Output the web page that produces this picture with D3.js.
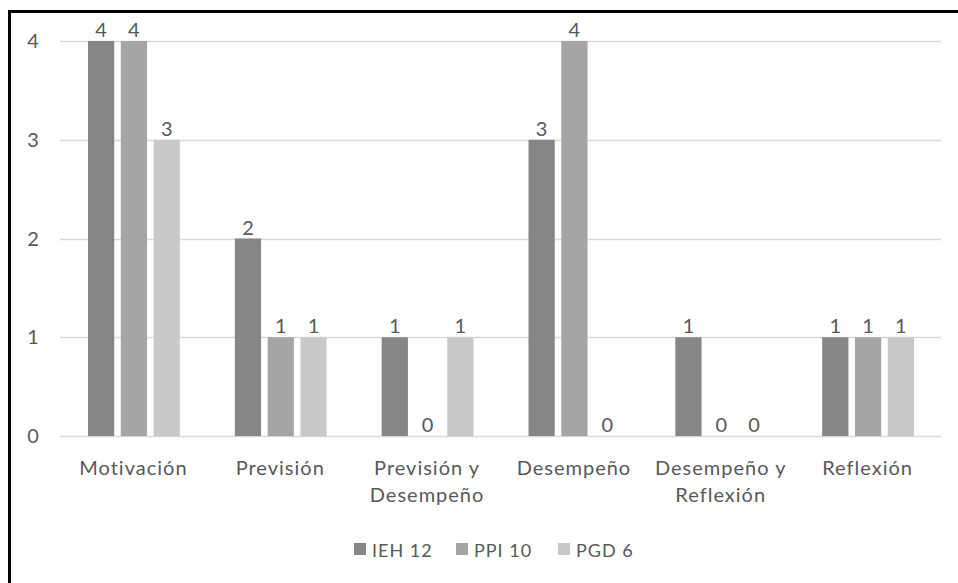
<!DOCTYPE html>
<html>
<head>
<meta charset="utf-8">
<script src="https://cdn.jsdelivr.net/npm/d3@7"></script>
<style>
  body { margin: 0; background: #fff; }
  svg { display: block; font-family: Lato, "Open Sans", sans-serif; }
</style>
</head>
<body>
<div id="wrapper"></div>
<script>
const categories = [["Motivación"], ["Previsión"], ["Previsión y", "Desempeño"], ["Desempeño"], ["Desempeño y", "Reflexión"], ["Reflexión"]]
const seriesNames = ["IEH 12", "PPI 10", "PGD 6"]
const ieh = [4, 2, 1, 3, 1, 1]
const ppi = [4, 1, 0, 4, 0, 1]
const pgd = [3, 1, 1, 0, 0, 1]
const yTicks = [0, 1, 2, 3, 4]
const colours = ["#868686", "#a5a5a5", "#c9c9c9"]

function drawBars() {
  const values = [ieh, ppi, pgd]
  const dimensions = {
    width: 958,
    height: 583,
    margin: { top: 41, right: 17, bottom: 147, left: 60 },
  }
  dimensions.boundedWidth = dimensions.width - dimensions.margin.left - dimensions.margin.right
  dimensions.boundedHeight = dimensions.height - dimensions.margin.top - dimensions.margin.bottom

  const wrapper = d3.select("#wrapper").append("svg")
      .attr("width", dimensions.width)
      .attr("height", dimensions.height)

  // frame (only top and left edges visible)
  wrapper.append("path")
      .attr("d", `M9.5,${dimensions.height} V11.5 H${dimensions.width}`)
      .attr("fill", "none")
      .attr("stroke", "#000")
      .attr("stroke-width", 3)

  const bounds = wrapper.append("g")
      .attr("transform", `translate(${dimensions.margin.left},${dimensions.margin.top})`)

  const xScale = d3.scaleBand()
      .domain(d3.range(categories.length))
      .range([0, dimensions.boundedWidth])

  const xInner = d3.scaleBand()
      .domain(d3.range(seriesNames.length))
      .range([28, xScale.bandwidth() - 27])
      .paddingInner(0.2)

  const yScale = d3.scaleLinear()
      .domain([0, 4])
      .range([dimensions.boundedHeight, 0])

  // gridlines
  bounds.append("g").selectAll("line")
    .data(yTicks)
    .join("line")
      .attr("x1", 0)
      .attr("x2", dimensions.boundedWidth)
      .attr("y1", d => Math.round(yScale(d)) + 0.5)
      .attr("y2", d => Math.round(yScale(d)) + 0.5)
      .attr("stroke", "#d9d9d9")
      .attr("stroke-width", 1.3)

  // y tick labels
  bounds.append("g").selectAll("text")
    .data(yTicks)
    .join("text")
      .attr("x", -27)
      .attr("y", d => yScale(d) + 7)
      .attr("text-anchor", "middle")
      .attr("fill", "#595959")
      .style("font-size", "20px")
      .text(d => d)

  // bars
  const groups = bounds.selectAll(".cat")
    .data(categories)
    .join("g")
      .attr("class", "cat")
      .attr("transform", (d, i) => `translate(${xScale(i)},0)`)

  groups.each(function(c, i) {
    const g = d3.select(this)
    seriesNames.forEach((s, j) => {
      const v = values[j][i]
      g.append("rect")
          .attr("x", xInner(j))
          .attr("y", yScale(v))
          .attr("width", xInner.bandwidth())
          .attr("height", yScale(0) - yScale(v))
          .attr("fill", colours[j])
      g.append("text")
          .attr("x", xInner(j) + xInner.bandwidth() / 2)
          .attr("y", yScale(v) - 4)
          .attr("text-anchor", "middle")
          .attr("fill", "#595959")
          .style("font-size", "20px")
          .text(v)
    })
    const label = g.append("text")
        .attr("x", xScale.bandwidth() / 2)
        .attr("y", dimensions.boundedHeight + 39)
        .attr("text-anchor", "middle")
        .attr("fill", "#595959")
        .style("font-size", "20px")
        .style("letter-spacing", "1px")
    c.forEach((line, k) => {
      label.append("tspan")
          .attr("x", xScale.bandwidth() / 2)
          .attr("dy", k === 0 ? 0 : 27)
          .text(line)
    })
  })

  // legend
  const legendX = [354, 456, 558]
  const legend = wrapper.append("g")
  seriesNames.forEach((s, j) => {
    legend.append("rect")
        .attr("x", legendX[j])
        .attr("y", 543)
        .attr("width", 12)
        .attr("height", 12)
        .attr("fill", colours[j])
    legend.append("text")
        .attr("x", legendX[j] + 18)
        .attr("y", 557)
        .attr("fill", "#595959")
        .style("font-size", "18px")
        .style("letter-spacing", "1px")
        .text(s)
  })
}
drawBars()
</script>
</body>
</html>
